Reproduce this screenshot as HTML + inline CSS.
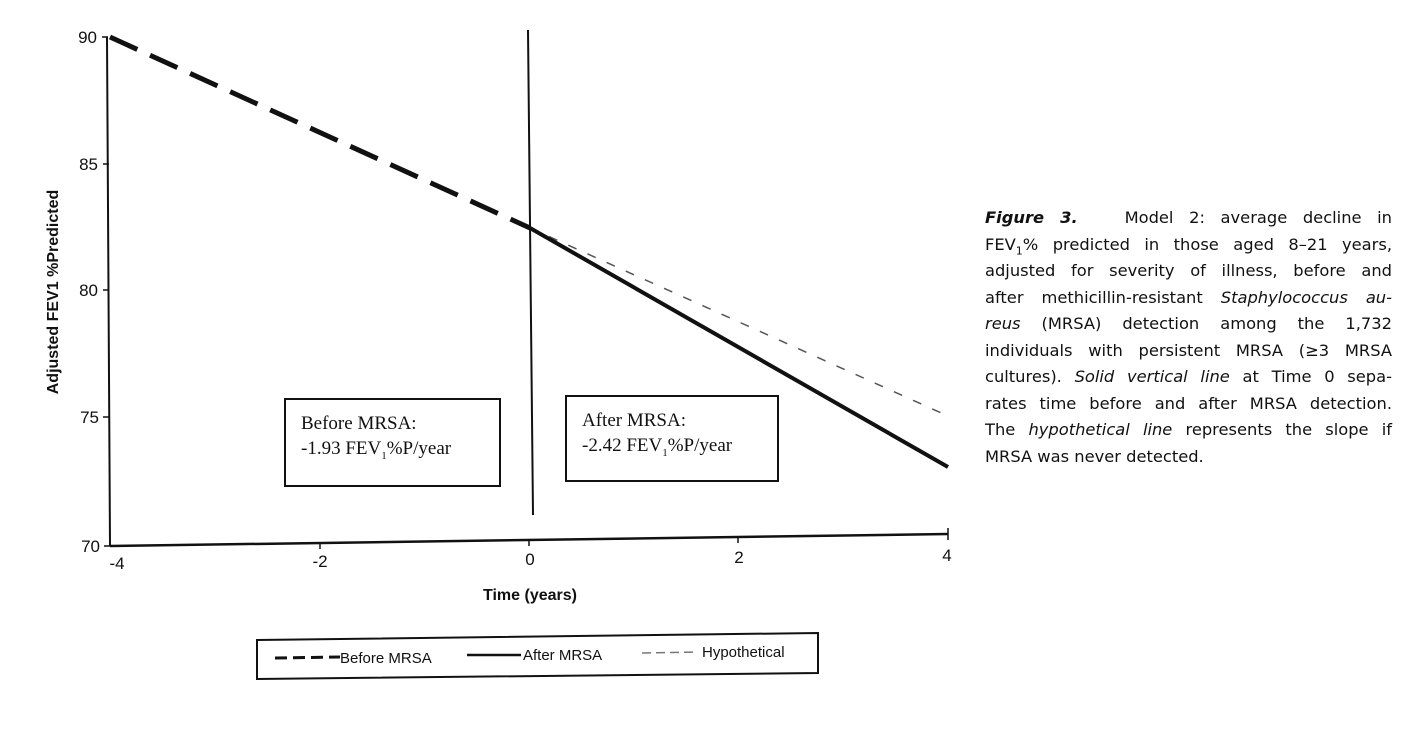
<!DOCTYPE html>
<html><head><meta charset="utf-8"><style>
html,body{margin:0;padding:0;background:#fff;}
body{width:1414px;height:748px;position:relative;overflow:hidden;}
.cap{position:absolute;left:985px;width:407px;font-family:"DejaVu Sans","Liberation Sans",sans-serif;font-size:16.3px;line-height:26.5px;color:#111;}
.cap div{text-align:justify;text-align-last:justify;height:26.5px;white-space:nowrap;}
.cap div.last{text-align-last:left;}
</style></head><body>
<svg width="1414" height="748" style="position:absolute;left:0;top:0" font-family="Liberation Sans, sans-serif">
 <g stroke="#111" fill="none">
  <line x1="107" y1="37" x2="110" y2="546" stroke-width="2"/>
  <g stroke-width="1.5">
   <line x1="102" y1="37" x2="108" y2="37"/>
   <line x1="103" y1="164" x2="109" y2="164"/>
   <line x1="103" y1="290" x2="109" y2="290"/>
   <line x1="103" y1="417" x2="110" y2="417"/>
   <line x1="104" y1="546" x2="110" y2="546"/>
  </g>
  <line x1="110" y1="546" x2="948" y2="534" stroke-width="2.5"/>
  <g stroke-width="1.5">
   <line x1="320" y1="543" x2="320" y2="549"/>
   <line x1="529" y1="540" x2="529" y2="546"/>
   <line x1="738" y1="537" x2="738" y2="543"/>
   <line x1="948" y1="528" x2="948" y2="540"/>
  </g>
  <line x1="528" y1="30" x2="533" y2="515" stroke-width="2"/>
  <line x1="110" y1="37" x2="530" y2="228" stroke-width="5" stroke-dasharray="30,14"/>
  <line x1="530" y1="228" x2="948" y2="416" stroke="#555" stroke-width="1.5" stroke-dasharray="9,12"/>
  <line x1="530" y1="228" x2="948" y2="467" stroke-width="4"/>
  <rect x="285" y="399" width="215" height="87" stroke-width="2"/>
  <rect x="566" y="396" width="212" height="85" stroke-width="2"/>
  <polygon points="257,640 818,633 818,673 257,679" stroke-width="2"/>
  <line x1="275" y1="658" x2="340" y2="657" stroke-width="3" stroke-dasharray="12,6"/>
  <line x1="467" y1="655" x2="521" y2="655" stroke-width="2.5"/>
  <line x1="642" y1="653" x2="698" y2="652" stroke="#777" stroke-width="1.5" stroke-dasharray="9,5"/>
 </g>
 <g font-size="17" fill="#111" text-anchor="end">
  <text x="97" y="43">90</text>
  <text x="98" y="170">85</text>
  <text x="98" y="296">80</text>
  <text x="99" y="423">75</text>
  <text x="100" y="552">70</text>
 </g>
 <g font-size="17" fill="#111" text-anchor="middle">
  <text x="117" y="569">-4</text>
  <text x="320" y="567">-2</text>
  <text x="530" y="565">0</text>
  <text x="739" y="563">2</text>
  <text x="947" y="561">4</text>
 </g>
 <text x="530" y="600" font-size="16" font-weight="bold" text-anchor="middle" fill="#111">Time (years)</text>
 <text transform="translate(58,292) rotate(-90)" font-size="16" font-weight="bold" text-anchor="middle" fill="#111">Adjusted FEV1 %Predicted</text>
 <g font-family="Liberation Serif, serif" font-size="19" fill="#111">
  <text x="301" y="429">Before MRSA:</text>
  <text x="301" y="454">-1.93 FEV<tspan font-size="11" dy="5">1</tspan><tspan dy="-5">%P/year</tspan></text>
  <text x="582" y="426">After MRSA:</text>
  <text x="582" y="451">-2.42 FEV<tspan font-size="11" dy="5">1</tspan><tspan dy="-5">%P/year</tspan></text>
 </g>
 <g font-size="15" fill="#111">
  <text x="340" y="663">Before MRSA</text>
  <text x="523" y="660">After MRSA</text>
  <text x="702" y="657">Hypothetical</text>
 </g>
</svg>
<div class="cap" style="top:205px">
 <div><b><i>Figure 3.</i></b>&nbsp;&nbsp; Model 2: average decline in</div>
 <div>FEV<sub style="font-size:11px">1</sub>% predicted in those aged 8–21 years,</div>
 <div>adjusted for severity of illness, before and</div>
 <div>after methicillin-resistant <i>Staphylococcus au-</i></div>
 <div><i>reus</i> (MRSA) detection among the 1,732</div>
 <div>individuals with persistent MRSA (≥3 MRSA</div>
 <div>cultures). <i>Solid vertical line</i> at Time 0 sepa-</div>
 <div>rates time before and after MRSA detection.</div>
 <div>The <i>hypothetical line</i> represents the slope if</div>
 <div class="last">MRSA was never detected.</div>
</div>
</body></html>
